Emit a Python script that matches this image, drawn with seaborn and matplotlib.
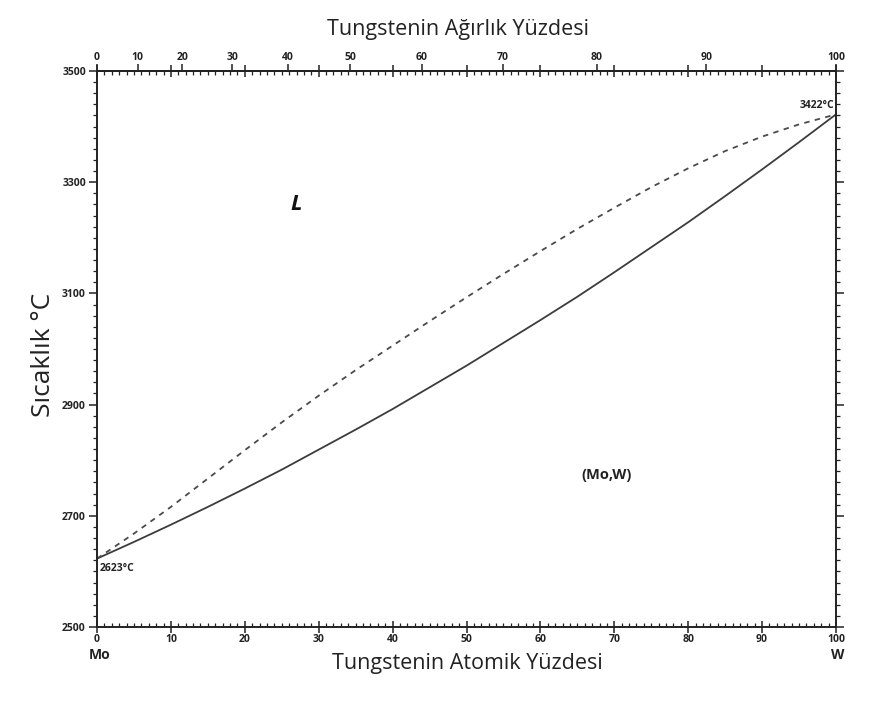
import numpy as np
import pandas as pd
import matplotlib
matplotlib.use("Agg")
import matplotlib.pyplot as plt
import seaborn as sns
from matplotlib.ticker import MultipleLocator

# ---- data ----
solidus_at = [0, 5, 10, 15, 20, 25, 30, 35, 40, 45, 50, 55, 60, 65, 70, 75, 80, 85, 90, 95, 100]
solidus_T = [2623, 2653, 2684, 2716, 2749, 2783, 2819, 2855, 2892, 2931, 2970,
             3011, 3052, 3094, 3138, 3183, 3228, 3275, 3323, 3372, 3422]
liquidus_at = [0, 5, 10, 15, 20, 25, 30, 35, 40, 45, 50, 55, 60, 65, 70, 75, 80, 85, 90, 95, 100]
liquidus_T = [2623, 2668, 2716, 2767, 2818, 2868, 2916, 2962, 3006, 3050, 3093,
              3135, 3176, 3216, 3254, 3291, 3325, 3356, 3382, 3404, 3422]
x_ticks = list(range(0, 101, 10))
y_ticks = [2500, 2700, 2900, 3100, 3300, 3500]
wt_ticks = list(range(0, 101, 10))
M_MO, M_W = 95.95, 183.84

sns.set_style("ticks")
plt.rcParams['font.family'] = ['Open Sans', 'DejaVu Sans']

df = pd.concat([
    pd.DataFrame({"at": solidus_at, "T": solidus_T, "line": "solidus"}),
    pd.DataFrame({"at": liquidus_at, "T": liquidus_T, "line": "liquidus"}),
])

fig = plt.figure(figsize=(8.89, 7.04), dpi=100)
ax = fig.add_axes([97 / 889, 1 - 627 / 704, (836 - 97) / 889, (627 - 71) / 704])

sns.lineplot(data=df[df.line == "solidus"], x="at", y="T", ax=ax, color="#3c3c3c",
             lw=1.3, estimator=None, sort=True)
sns.lineplot(data=df[df.line == "liquidus"], x="at", y="T", ax=ax, color="#4a4a4a",
             lw=1.3, estimator=None, sort=True)
ax.lines[-1].set_linestyle((0, (3, 3)))

ax.set_xlim(0, 100)
ax.set_ylim(2500, 3500)
ax.set_xticks(x_ticks)
ax.set_yticks(y_ticks)
ax.xaxis.set_minor_locator(MultipleLocator(1))
ax.yaxis.set_minor_locator(MultipleLocator(20))
ax.set_xlabel("")
ax.set_ylabel("")
for s in ax.spines.values():
    s.set_visible(True)
    s.set_linewidth(1.4)
    s.set_color("#222222")

ax.tick_params(axis='x', which='major', direction='inout', length=8, width=1.1,
               top=True, bottom=True, labeltop=False, labelsize=7.5, pad=1, colors="#222222")
ax.tick_params(axis='x', which='minor', direction='in', length=3, width=0.9,
               top=True, bottom=True, colors="#222222")
ax.tick_params(axis='y', which='major', direction='out', length=6, width=1.1,
               left=True, right=True, labelright=False, labelsize=7.5, pad=2, colors="#222222")
ax.tick_params(axis='y', which='minor', direction='out', length=3, width=0.9,
               left=True, right=True, colors="#222222")
for lab in ax.get_xticklabels() + ax.get_yticklabels():
    lab.set_fontweight("bold")


def at2wt(a):
    a = np.clip(np.asarray(a, dtype=float), 0, 100)
    return 100 * a * M_W / (a * M_W + (100 - a) * M_MO)


def wt2at(w):
    w = np.clip(np.asarray(w, dtype=float), 0, 100)
    return 100 * (w / M_W) / (w / M_W + (100 - w) / M_MO)


sec = ax.secondary_xaxis('top', functions=(at2wt, wt2at))
sec.set_xticks(wt_ticks)
sec.tick_params(axis='x', which='major', direction='out', length=5, width=1.1,
                labelsize=7.5, pad=1, colors="#222222")
sec.tick_params(axis='x', which='minor', length=0)
sec.spines['top'].set_linewidth(1.4)
for lab in sec.get_xticklabels():
    lab.set_fontweight("bold")

# annotations
ax.text(27, 3259, "L", fontsize=16, fontweight="bold", fontstyle="italic",
        ha="center", va="center", color="#111111")
ax.text(69, 2773, "(Mo,W)", fontsize=10.5, fontweight="bold", ha="center", va="center",
        color="#222222")
ax.text(0.4, 2606, "2623°C", fontsize=7.5, fontweight="bold", ha="left", va="center",
        color="#222222")
ax.text(99.8, 3438, "3422°C", fontsize=7.5, fontweight="bold", ha="right", va="center",
        color="#222222")

fig.text(100 / 889, 1 - 655 / 704, "Mo", fontsize=10, fontweight="bold", ha="center",
         va="center", color="#222222")
fig.text(838 / 889, 1 - 655 / 704, "W", fontsize=10, fontweight="bold", ha="center",
         va="center", color="#222222")
fig.text(467 / 889, 1 - 663 / 704, "Tungstenin Atomik Yüzdesi", fontsize=15.5,
         ha="center", va="center", color="#222222")
fig.text(458 / 889, 1 - 30 / 704, "Tungstenin Ağırlık Yüzdesi", fontsize=15.5,
         ha="center", va="center", color="#222222")
fig.text(43 / 889, 1 - 355 / 704, "Sıcaklık °C", fontsize=19, rotation=90,
         ha="center", va="center", color="#222222")

fig.savefig("out.png", dpi=100, facecolor="white")
